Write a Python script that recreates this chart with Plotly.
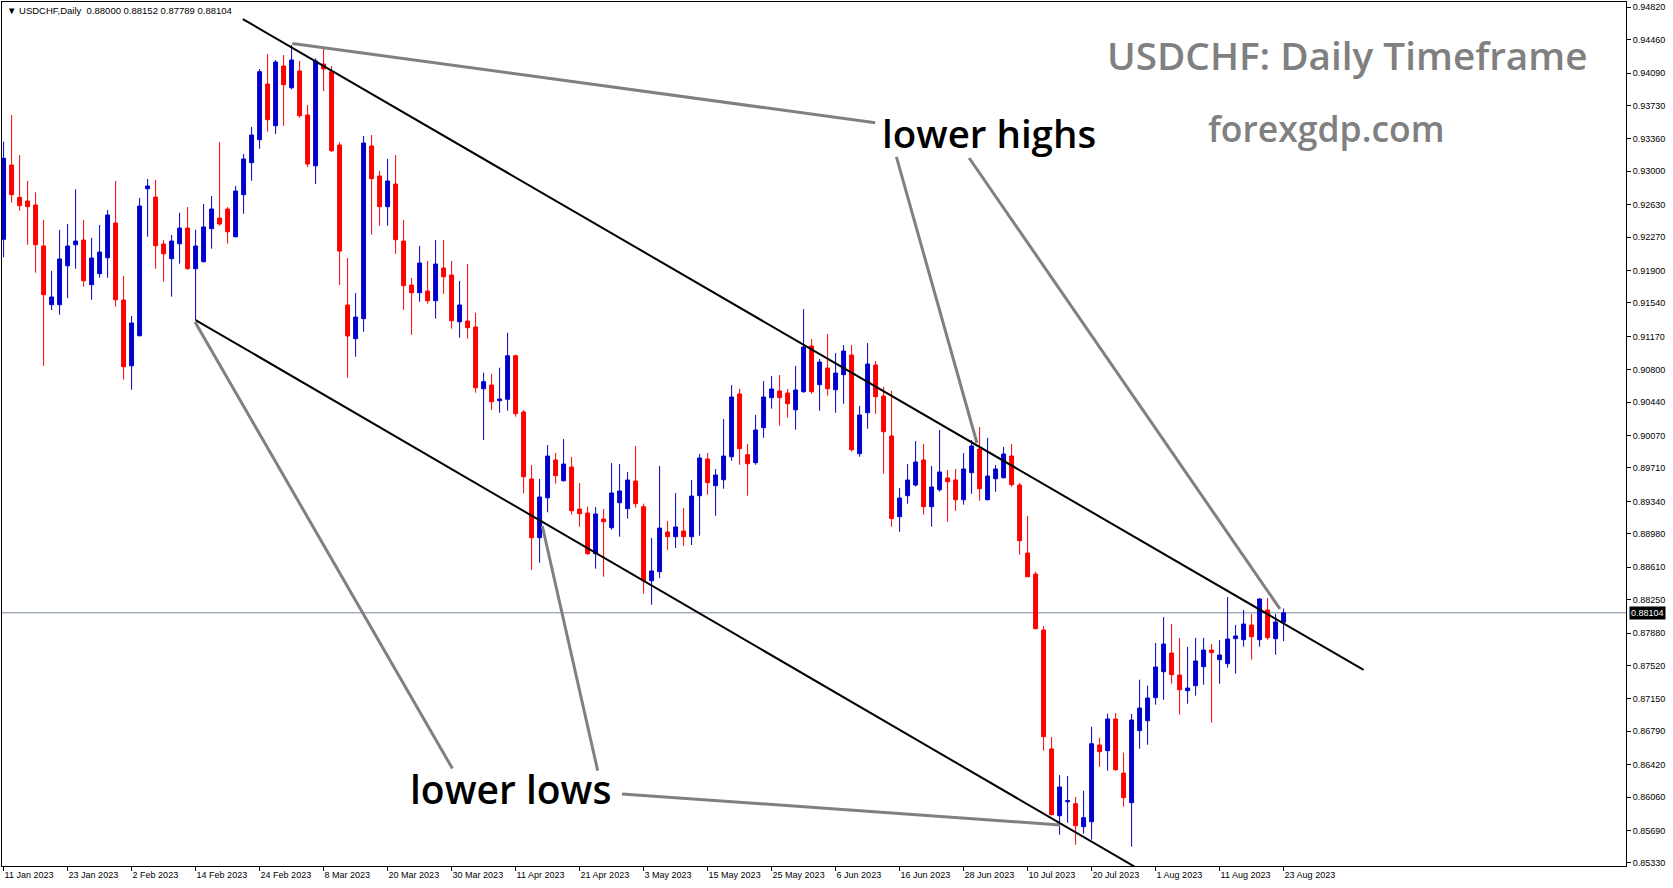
import plotly.graph_objects as go

# ---------------- data ----------------
date_labels = ["11 Jan 2023", "23 Jan 2023", "2 Feb 2023", "14 Feb 2023", "24 Feb 2023",
               "8 Mar 2023", "20 Mar 2023", "30 Mar 2023", "11 Apr 2023", "21 Apr 2023",
               "3 May 2023", "15 May 2023", "25 May 2023", "6 Jun 2023", "16 Jun 2023",
               "28 Jun 2023", "10 Jul 2023", "20 Jul 2023", "1 Aug 2023", "11 Aug 2023",
               "23 Aug 2023"]
label_every = 8  # one date label per 8 daily bars

opens = [
    .92246, .93070, .92712, .92671, .92627, .92172, .91521, .91521, .91953, .92186,
    .92238, .91743, .91865, .92042, .92427, .91573, .90844, .91177, .92807, .92715,
    .92194, .92031, .92197, .92371, .91920, .91998, .92364, .92482, .92582, .92275,
    .92741, .93096, .93351, .93968, .93506, .94168, .93927, .94113, .93625, .93062,
    .94190, .94105, .93292, .91518, .91144, .91366, .93281, .92948, .92608, .92859,
    .92227, .91739, .91654, .91673, .91565, .91928, .91850, .91332, .91340, .91274,
    .90589, .90630, .90456, .90472, .90955, .90331, .89588, .88937, .89380, .89799,
    .89569, .89721, .89255, .89211, .88759, .89144, .89048, .89325, .89259, .89566,
    .89281, .88460, .88560, .89000, .88948, .89011, .88948, .89403, .89810, .89514,
    .89580, .89835, .90531, .89857, .89769, .90157, .90490, .90564, .90542, .90356,
    .90556, .91063, .90634, .90819, .90578, .90745, .90963, .89869, .90323, .90852,
    .90508, .90065, .89170, .89403, .89521, .89799, .89281, .89469, .89599, .89577,
    .89358, .89658, .89921, .89358, .89591, .89602, .89843, .89521, .88767, .88534,
    .87913, .86594, .85854, .86009, .85987, .85732, .85787, .86638, .86575, .86926,
    .86327, .85998, .86797, .86907, .87163, .87451, .87658, .87414, .87240, .87296,
    .87506, .87691, .87584, .87540, .87817, .87806, .87969, .87806, .88135, .87817,
    .88000]

highs = [
    .93329, .93625, .93181, .92893, .92767, .92460, .91895, .92349, .92416, .92801,
    .92460, .92261, .92405, .92571, .92893, .91839, .91396, .92704, .92915, .92904,
    .92238, .92294, .92541, .92604, .92353, .92638, .92726, .93325, .92604, .92837,
    .93192, .93492, .94135, .94301, .94235, .94290, .94401, .94224, .93736, .94253,
    .94364, .94168, .93322, .92039, .91651, .93392, .93403, .93004, .93137, .93181,
    .92460, .91817, .92172, .92006, .92238, .92238, .92006, .91784, .91972, .91432,
    .90767, .90756, .90822, .91210, .90966, .90353, .89743, .89588, .89965, .89876,
    .90031, .89832, .89544, .89281, .89277, .89255, .89765, .89754, .89666, .89954,
    .89314, .88934, .89732, .89122, .89433, .89266, .89577, .89865, .89876, .89699,
    .90253, .90630, .90589, .89976, .90298, .90675, .90730, .90741, .90586, .90841,
    .91473, .91141, .90919, .91196, .90985, .91074, .91074, .90397, .91096, .90897,
    .90608, .90567, .89488, .89754, .90009, .89976, .89732, .90131, .89688, .89699,
    .89876, .90020, .90165, .90043, .89743, .89943, .89976, .89544, .89178, .88560,
    .87958, .86727, .86305, .86294, .86061, .86131, .86841, .86719, .86985, .86993,
    .86553, .86982, .87362, .87296, .87769, .88057, .87980, .87825, .87725, .87825,
    .87825, .87758, .87802, .88279, .87969, .88135, .88091, .88268, .88268, .88091,
    .88152]

lows = [
    .92047, .92652, .92563, .92186, .91876, .90844, .91462, .91410, .91595, .91920,
    .91721, .91576, .91820, .91820, .91499, .90689, .90578, .91170, .92275, .91920,
    .91776, .91610, .91976, .91909, .91351, .91990, .92142, .92397, .92197, .92268,
    .92530, .92896, .93251, .93439, .93414, .93506, .93910, .93595, .93048, .92859,
    .93891, .93214, .91739, .90711, .90944, .91221, .92297, .92397, .92397, .92086,
    .91465, .91188, .91554, .91532, .91366, .91643, .91255, .91155, .91144, .90545,
    .90020, .90353, .90323, .90345, .90279, .89429, .88579, .88660, .89219, .89536,
    .89560, .89192, .89059, .88748, .88593, .88504, .89026, .88948, .89148, .89270,
    .88316, .88194, .88490, .88800, .88823, .88845, .88856, .88959, .89414, .89181,
    .89480, .89791, .89746, .89403, .89746, .90046, .90368, .90179, .90268, .90135,
    .90545, .90534, .90345, .90512, .90323, .90423, .89891, .89835, .90146, .90312,
    .89647, .89059, .89003, .89314, .89503, .89192, .89059, .89447, .89114, .89236,
    .89303, .89425, .89347, .89350, .89447, .89595, .89503, .88748, .88500, .87920,
    .86575, .85860, .85643, .85776, .85532, .85654, .85588, .86397, .86353, .86353,
    .85954, .85510, .86597, .86641, .87085, .87140, .87318, .86974, .87096, .87185,
    .87307, .86885, .87318, .87495, .87429, .87728, .87584, .87728, .87806, .87639,
    .87789]

closes = [
    .93145, .92741, .92619, .92608, .92186, .91632, .91606, .92028, .92172, .92227,
    .91787, .92039, .92105, .92516, .91576, .90833, .91318, .92615, .92837, .92175,
    .92086, .92227, .92371, .91920, .92172, .92383, .92582, .92416, .92330, .92782,
    .93137, .93403, .94105, .93573, .94212, .93961, .94235, .93617, .93081, .94224,
    .94135, .93229, .92116, .91174, .91384, .93314, .92918, .92608, .92893, .92242,
    .91732, .91654, .91983, .91565, .91972, .91831, .91343, .91518, .91266, .90600,
    .90667, .90445, .90475, .90955, .90312, .89613, .88937, .89388, .89843, .89625,
    .89754, .89236, .89203, .88759, .89200, .89114, .89433, .89455, .89577, .89314,
    .88460, .88568, .89044, .88948, .89056, .88948, .89399, .89821, .89547, .89632,
    .89843, .90497, .89924, .89758, .90131, .90497, .90586, .90490, .90423, .90575,
    .91052, .90556, .90885, .90589, .90763, .91007, .89913, .90298, .90863, .90501,
    .90113, .89150, .89377, .89577, .89776, .89281, .89499, .89666, .89558, .89358,
    .89699, .89954, .89480, .89621, .89699, .89865, .89525, .88904, .88504, .87928,
    .86730, .85865, .86172, .86020, .85743, .85832, .86652, .86564, .86926, .86364,
    .86054, .86915, .87048, .87159, .87503, .87758, .87418, .87251, .87270, .87570,
    .87691, .87662, .87636, .87813, .87847, .87980, .87839, .88257, .87828, .88002,
    .88104]

price_ticks = [0.94820, 0.94460, 0.94090, 0.93730, 0.93360, 0.93000, 0.92630, 0.92270,
               0.91900, 0.91540, 0.91170, 0.90800, 0.90440, 0.90070, 0.89710, 0.89340,
               0.88980, 0.88610, 0.88250, 0.87880, 0.87520, 0.87150, 0.86790, 0.86420,
               0.86060, 0.85690, 0.85330]

# trend lines drawn on the chart (bar index, price)
upper_channel_x = [29.9, 170.0]
upper_channel_y = [0.94689, 0.87470]
lower_channel_x = [24.0, 143.0]
lower_channel_y = [0.91351, 0.85205]

pointer_lines = [  # gray pointer lines (x pair, y pair)
    ([36.1, 108.95], [0.94418, 0.93539]),
    ([111.6, 121.67], [0.93160, 0.89987]),
    ([120.7, 159.55], [0.93148, 0.88146]),
    ([23.93, 56.1], [0.91329, 0.86377]),
    ([67.34, 74.26], [0.89067, 0.86354]),
    ([77.3, 132.05], [0.86095, 0.85751]),
]

x_range = [-0.2, 202.8]
y_range = [0.85296, 0.94878]

# ---------------- figure ----------------
bars = list(range(len(opens)))
BLUE = "#0000CC"
RED = "#FF0000"
GRAY = "#808080"

fig = go.Figure()
fig.add_trace(go.Candlestick(
    x=bars, open=opens, high=highs, low=lows, close=closes,
    increasing=dict(line=dict(color=BLUE, width=1), fillcolor=BLUE),
    decreasing=dict(line=dict(color=RED, width=1), fillcolor=RED),
    whiskerwidth=0, hoverinfo="skip", showlegend=False,
))

for xs, ys in pointer_lines:
    fig.add_trace(go.Scatter(x=xs, y=ys, mode="lines", line=dict(color=GRAY, width=3),
                             hoverinfo="skip", showlegend=False))

fig.add_trace(go.Scatter(x=upper_channel_x, y=upper_channel_y, mode="lines",
                         line=dict(color="black", width=2), hoverinfo="skip", showlegend=False))
fig.add_trace(go.Scatter(x=lower_channel_x, y=lower_channel_y, mode="lines",
                         line=dict(color="black", width=2), hoverinfo="skip", showlegend=False))

last_close = closes[-1]
fig.add_shape(type="line", xref="paper", x0=0, x1=1, yref="y", y0=last_close, y1=last_close,
              line=dict(color="#778899", width=1), layer="below")

W, H = 1673, 888
ml, mr, mt, mb = 2, 47, 2, 22
pw, ph = W - ml - mr, H - mt - mb


def px(x):
    return (x - ml) / pw


def py(y):
    return 1 - (y - mt) / ph


header = "\u25BC USDCHF,Daily\u00a0\u00a0{:.5f} {:.5f} {:.5f} {:.5f}".format(
    opens[-1], highs[-1], lows[-1], closes[-1])

annotations = [
    dict(text=header, xref="paper", yref="paper", x=px(5), y=py(10.5), xanchor="left",
         yanchor="middle", showarrow=False,
         font=dict(family="Liberation Sans", size=9.5, color="black")),
    dict(text="USDCHF: Daily Timeframe", xref="paper", yref="paper", x=px(1347), y=py(55),
         xanchor="center", yanchor="middle", showarrow=False,
         font=dict(family="Open Sans", size=38.7, color=GRAY, weight=600)),
    dict(text="forexgdp.com", xref="paper", yref="paper", x=px(1326), y=py(128),
         xanchor="center", yanchor="middle", showarrow=False,
         font=dict(family="Open Sans", size=35.5, color=GRAY, weight=600)),
    dict(text="lower highs", xref="paper", yref="paper", x=px(989), y=py(133),
         xanchor="center", yanchor="middle", showarrow=False,
         font=dict(family="Open Sans", size=38.5, color="black", weight=600)),
    dict(text="lower lows", xref="paper", yref="paper", x=px(510), y=py(788),
         xanchor="center", yanchor="middle", showarrow=False,
         font=dict(family="Open Sans", size=39, color="black", weight=600)),
    dict(text="{:.5f}".format(last_close), xref="paper", yref="y", x=1, y=last_close,
         xanchor="left", yanchor="middle", xshift=3, showarrow=False, bgcolor="black",
         borderpad=1, font=dict(family="Liberation Sans", size=9, color="white")),
]

fig.update_layout(
    width=W, height=H, autosize=False,
    margin=dict(l=ml, r=mr, t=mt, b=mb, pad=0),
    paper_bgcolor="white", plot_bgcolor="white",
    font=dict(family="Liberation Sans", size=9, color="black"),
    showlegend=False, hovermode=False,
    annotations=annotations,
    xaxis=dict(range=x_range, rangeslider=dict(visible=False), showgrid=False, zeroline=False,
               showline=True, linecolor="black", linewidth=1, mirror=True,
               ticks="outside", ticklen=4, tickcolor="black", tickwidth=1,
               tickvals=[i * label_every for i in range(len(date_labels))],
               ticktext=date_labels, ticklabelposition="outside right",
               tickfont=dict(family="Liberation Sans", size=9, color="black")),
    yaxis=dict(range=y_range, side="right", showgrid=False, zeroline=False,
               showline=True, linecolor="black", linewidth=1, mirror=True,
               ticks="outside", ticklen=4, tickcolor="black", tickwidth=1,
               tickvals=price_ticks, ticktext=["{:.5f}".format(v) for v in price_ticks],
               tickfont=dict(family="Liberation Sans", size=9, color="black")),
)

fig.write_html("out.html", config={"displayModeBar": False},
               post_script="document.body.style.margin='0';")
